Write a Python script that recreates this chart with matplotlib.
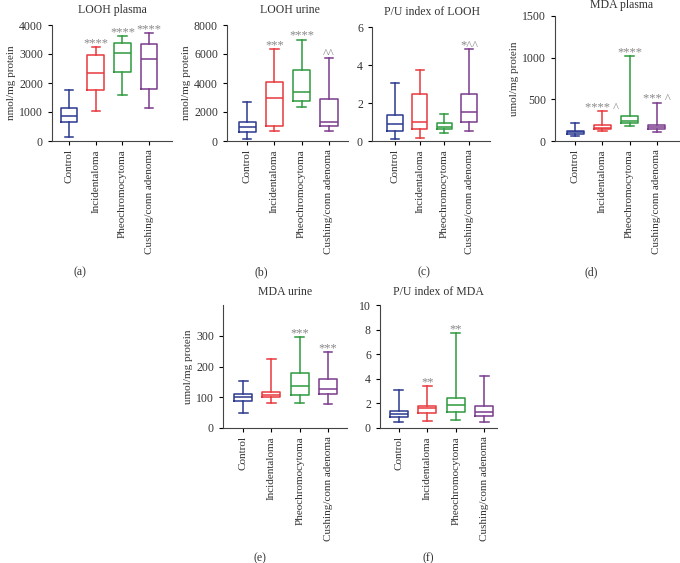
import matplotlib
matplotlib.use("Agg")
import matplotlib.pyplot as plt

plt.rcParams['font.family'] = ['Liberation Serif', 'DejaVu Serif']

# Gruppenavn og farger
groups = ['Control', 'Incidentaloma', 'Pheochromocytoma', 'Cushing/conn adenoma']
colors = ['#2a3990', '#e8383d', '#2e9a3e', '#7b3b8c']

# Fem-tall-oppsummering per gruppe: [min, q1, median, q3, maks]
looh_plasma = [[150, 650, 870, 1130, 1770],
               [1020, 1750, 2330, 2950, 3250],
               [1580, 2380, 3030, 3380, 3620],
               [1130, 1800, 2840, 3330, 3730]]
looh_plasma_sig = ['', '****', '****', '****']

looh_urine = [[150, 620, 1000, 1320, 2680],
              [720, 1050, 2950, 4050, 6330],
              [2330, 2750, 3380, 4920, 7000],
              [680, 1050, 1330, 2930, 5730]]
looh_urine_sig = ['', '***', '****', '^^']

pu_looh = [[0.10, 0.55, 0.88, 1.38, 3.03],
           [0.18, 0.62, 1.00, 2.47, 3.73],
           [0.42, 0.62, 0.72, 0.95, 1.42],
           [0.55, 0.98, 1.52, 2.48, 4.83]]
pu_looh_sig = ['', '', '', '*^^']

mda_plasma = [[55, 90, 110, 125, 215],
              [115, 145, 160, 190, 355],
              [175, 215, 235, 295, 1020],
              [110, 145, 165, 190, 455]]
mda_plasma_sig = ['', '**** ^', '****', '*** ^']

mda_urine = [[50, 88, 100, 110, 152],
             [80, 100, 107, 117, 225],
             [82, 107, 137, 180, 297],
             [78, 110, 127, 160, 248]]
mda_urine_sig = ['', '', '***', '***']

pu_mda = [[0.50, 0.90, 1.10, 1.35, 3.10],
          [0.60, 1.25, 1.60, 1.75, 3.40],
          [0.65, 1.30, 1.85, 2.45, 7.75],
          [0.45, 1.00, 1.30, 1.80, 4.20]]
pu_mda_sig = ['', '**', '**', '']

W, H = 680, 563
fig = plt.figure(figsize=(W / 100, H / 100), dpi=100)


def px_axes(l, r, t, b):
    return fig.add_axes([l / W, 1 - b / H, (r - l) / W, (b - t) / H])


def panel(box, data, sig, title, tpos, ylabel, ylim, yticks, xlim, letter, lpos):
    ax = px_axes(*box)
    stats = []
    for i, d in enumerate(data):
        stats.append(dict(whislo=d[0], q1=d[1], med=d[2], q3=d[3], whishi=d[4],
                          fliers=[], label=groups[i]))
    art = ax.bxp(stats, positions=[1, 2, 3, 4], widths=0.63, showfliers=False)
    for i, c in enumerate(colors):
        art['boxes'][i].set(color=c, linewidth=1.1)
        art['medians'][i].set(color=c, linewidth=1.1)
        for k in (2 * i, 2 * i + 1):
            art['whiskers'][k].set(color=c, linewidth=1.1)
            art['caps'][k].set(color=c, linewidth=1.1)
    for i, s in enumerate(sig):
        if s:
            ax.annotate(s, (i + 1, data[i][4]), xytext=(0, 0.5), textcoords='offset points',
                        ha='center', va='baseline', fontsize=9, color='#888888')
    ax.set_xlim(*xlim)
    ax.set_ylim(*ylim)
    ax.set_yticks(yticks)
    ax.set_xticks([1, 2, 3, 4])
    ax.set_xticklabels(groups, rotation=90, fontsize=8, color='#333333')
    ax.tick_params(axis='y', labelsize=8.5, labelcolor='#333333', length=3, width=0.8)
    ax.tick_params(axis='x', length=3, width=0.8, pad=3)
    for s in ('top', 'right'):
        ax.spines[s].set_visible(False)
    for s in ('left', 'bottom'):
        ax.spines[s].set_linewidth(0.8)
        ax.spines[s].set_color('#444444')
    if ylabel:
        ax.set_ylabel(ylabel, fontsize=8, color='#333333', labelpad=2)
    fig.text(tpos[0] / W, 1 - tpos[1] / H, title, ha='center', va='center', fontsize=8.5, color='#333333')
    fig.text(lpos[0] / W, 1 - lpos[1] / H, letter, ha='center', va='center', fontsize=8.5, color='#333333')
    return ax


panel((52, 172, 25, 141), looh_plasma, looh_plasma_sig, 'LOOH plasma', (112, 10),
      'nmol/mg protein', (0, 4000), [0, 1000, 2000, 3000, 4000], (0.36, 4.86), '(a)', (80, 272))
panel((227, 348, 25, 141), looh_urine, looh_urine_sig, 'LOOH urine', (290, 10),
      'nmol/mg protein', (0, 8000), [0, 2000, 4000, 6000, 8000], (0.26, 4.7), '(b)', (261, 272))
panel((372, 490, 27, 141), pu_looh, pu_looh_sig, 'P/U index of LOOH', (432, 12),
      None, (0, 6), [0, 2, 4, 6], (0.07, 4.85), '(c)', (424, 272))
panel((555, 680, 16, 141), mda_plasma, mda_plasma_sig, 'MDA plasma', (622, 5),
      'umol/mg protein', (0, 1500), [0, 500, 1000, 1500], (0.26, 4.85), '(d)', (591, 272))
panel((223, 347, 305, 428), mda_urine, mda_urine_sig, 'MDA urine', (285, 292),
      'umol/mg protein', (0, 400), [0, 100, 200, 300], (0.29, 4.67), '(e)', (260, 558))
panel((380, 497, 305, 428), pu_mda, pu_mda_sig, 'P/U index of MDA', (438, 292),
      None, (0, 10), [0, 2, 4, 6, 8, 10], (0.34, 4.45), '(f)', (428, 558))

fig.savefig('out.png', dpi=100)
